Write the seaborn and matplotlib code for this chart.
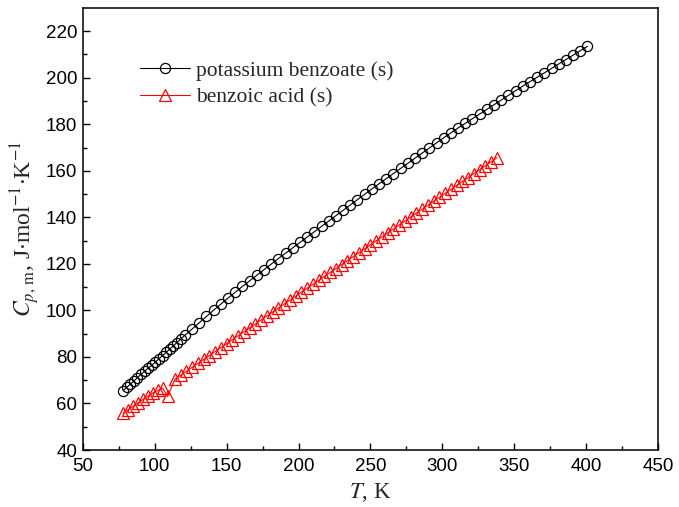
import numpy as np
import pandas as pd
import matplotlib
matplotlib.use("Agg")
import matplotlib.pyplot as plt
import seaborn as sns

# potassium benzoate (s)
t_kb = [78.0, 80.5, 83.0, 85.5, 88.0, 90.5, 93.0, 95.5, 98.0, 100.5, 103.0, 105.5,
        108.0, 110.5, 113.0, 115.5, 118.0, 121.0,
        126, 131, 136, 141, 146, 151, 156, 161, 166, 171, 176, 181, 186, 191, 196,
        201, 206, 211, 216, 221, 226, 231, 236, 241, 246, 251, 256, 261, 266, 271,
        276, 281, 286, 291, 296, 301, 306, 311, 316, 321, 326, 331, 336, 341, 346,
        351, 356, 361, 366, 371, 376, 381, 386, 391, 396, 401]
cp_kb = [65.5, 66.9, 68.3, 69.7, 71.1, 72.5, 73.9, 75.2, 76.5, 77.8, 79.2, 80.6,
         82.0, 83.4, 84.8, 86.2, 87.6, 89.3,
         92.0, 94.7, 97.4, 100.1, 102.7, 105.3, 107.8, 110.3, 112.7, 115.1, 117.5,
         119.9, 122.3, 124.6, 126.9, 129.2, 131.5, 133.8, 136.1, 138.4, 140.7,
         143.0, 145.3, 147.6, 149.9, 152.2, 154.4, 156.6, 158.8, 161.0, 163.2,
         165.4, 167.6, 169.8, 172.0, 174.2, 176.3, 178.4, 180.4, 182.4, 184.4,
         186.4, 188.4, 190.4, 192.4, 194.4, 196.4, 198.3, 200.2, 202.1, 204.0,
         205.9, 207.8, 209.7, 211.6, 213.5]

# benzoic acid (s)
t_ba = [78.0, 81.5, 85.0, 88.5, 92.0, 95.5, 99.0, 102.5, 105.5, 109.0,
        114, 118, 122, 126, 130, 134, 138, 142, 146, 150, 154, 158, 162, 166,
        170, 174, 178, 182, 186, 190, 194, 198, 202, 206, 210, 214, 218, 222,
        226, 230, 234, 238, 242, 246, 250, 254, 258, 262, 266, 270, 274, 278,
        282, 286, 290, 294, 298, 302, 306, 310, 314, 318, 322, 326, 330, 334, 338]
cp_ba = [55.8, 57.3, 58.8, 60.3, 61.8, 63.2, 64.6, 65.6, 66.6, 63.0,
         70.4, 72.1, 73.8, 75.5, 77.2, 78.9, 80.6, 82.3, 84.0, 85.7, 87.4, 89.1,
         90.8, 92.5, 94.2, 95.9, 97.6, 99.3, 101.0, 102.7, 104.4, 106.1, 107.8,
         109.5, 111.2, 112.9, 114.6, 116.3, 118.0, 119.7, 121.4, 123.1, 124.8,
         126.5, 128.2, 129.9, 131.6, 133.3, 135.0, 136.7, 138.4, 140.1, 141.8,
         143.5, 145.2, 146.9, 148.6, 150.3, 152.0, 153.7, 155.4, 157.1, 158.8,
         160.5, 162.2, 163.9, 165.6]

x_ticks = [50, 100, 150, 200, 250, 300, 350, 400, 450]
y_ticks = [40, 60, 80, 100, 120, 140, 160, 180, 200, 220]

sns.set_style("ticks")
plt.rcParams['font.family'] = ['Liberation Sans', 'DejaVu Sans']
plt.rcParams['mathtext.fontset'] = 'stix'

fig = plt.figure(figsize=(6.79, 5.07), dpi=100)
ax = fig.add_axes([0.122, 0.1124, 0.847, 0.872])

sns.lineplot(x=t_kb, y=cp_kb, ax=ax, color='black', lw=0.8, marker='o',
             markersize=7.3, markerfacecolor='none', markeredgecolor='black',
             markeredgewidth=0.9, label='potassium benzoate (s)', sort=False)
sns.lineplot(x=t_ba, y=cp_ba, ax=ax, color='red', lw=0.8, marker='^',
             markersize=8, markerfacecolor='none', markeredgecolor='red',
             markeredgewidth=0.9, label='benzoic acid (s)', sort=False)

ax.set_xlim(50, 450)
ax.set_ylim(40, 230)
ax.set_xticks(x_ticks)
ax.set_yticks(y_ticks)
ax.set_xticks(np.arange(75, 450, 50), minor=True)
ax.set_yticks(np.arange(50, 230, 10), minor=True)
ax.tick_params(which='both', direction='in', top=False, right=False,
               labelsize=13.5, width=1, colors='black')
ax.tick_params(axis='x', which='major', pad=6)
ax.tick_params(axis='y', which='major', pad=4)
ax.tick_params(which='major', length=5)
ax.tick_params(which='minor', length=3)
for s in ax.spines.values():
    s.set_linewidth(1.1)
    s.set_color('black')

ax.set_xlabel(r'$T$, K', fontsize=16.5, family='Liberation Serif', labelpad=4)
ax.set_ylabel(r'$C_{p,\,\mathrm{m}}$, J$\cdot$mol$^{-1}$$\cdot$K$^{-1}$',
              fontsize=17, family='Liberation Serif', labelpad=3)

leg = ax.legend(loc='upper left', bbox_to_anchor=(0.066, 0.925), frameon=False,
                prop={'family': 'Liberation Serif', 'size': 15.5},
                handlelength=2.3, handletextpad=0.3, labelspacing=0.3)

fig.savefig('out.png', dpi=100)
